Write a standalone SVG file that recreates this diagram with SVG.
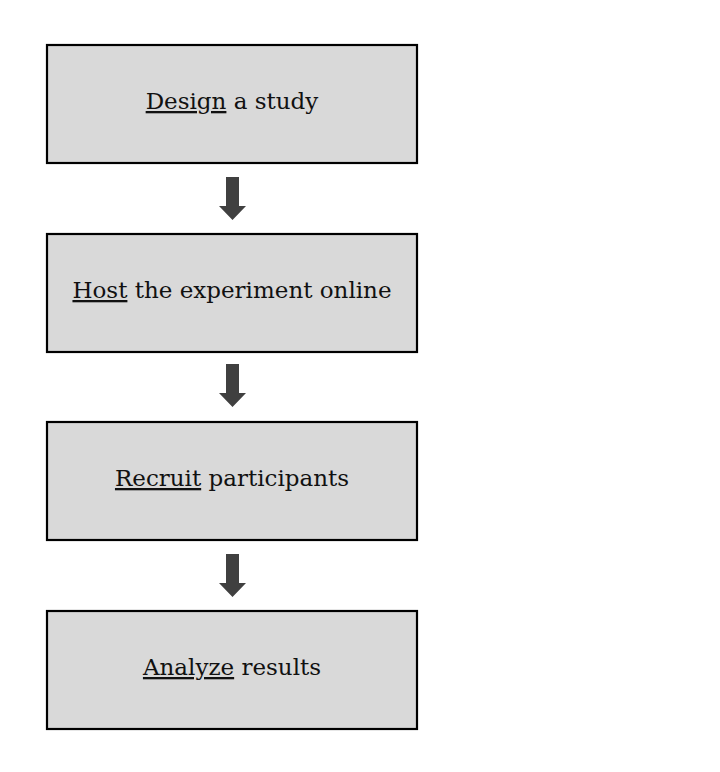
<svg xmlns="http://www.w3.org/2000/svg" width="720" height="772" viewBox="0 0 720 772">
<style>
.box{fill:#d9d9d9;stroke:#000;stroke-width:2.2}
.lbl{font-family:"DejaVu Serif","Liberation Serif",serif;font-size:23px;fill:#111;text-anchor:middle}
.u{text-decoration:underline}
.arr{fill:#404040}
</style>
<rect width="720" height="772" fill="#fff"/>
<g id="n1"><rect class="box" x="47" y="45" width="370" height="118"/><text class="lbl" x="232" y="109"><tspan class="u">Design</tspan> a study</text></g>
<g id="n2"><rect class="box" x="47" y="234" width="370" height="118"/><text class="lbl" x="232" y="298"><tspan class="u">Host</tspan> the experiment online</text></g>
<g id="n3"><rect class="box" x="47" y="422" width="370" height="118"/><text class="lbl" x="232" y="486"><tspan class="u">Recruit</tspan> participants</text></g>
<g id="n4"><rect class="box" x="47" y="611" width="370" height="118"/><text class="lbl" x="232" y="675"><tspan class="u">Analyze</tspan> results</text></g>
<g id="connectors">
<polygon class="arr" points="226,177 239,177 239,206 246,206 232.5,220 219,206 226,206"/>
<polygon class="arr" points="226,364 239,364 239,393 246,393 232.5,407 219,393 226,393"/>
<polygon class="arr" points="226,554 239,554 239,583 246,583 232.5,597 219,583 226,583"/>
</g>
</svg>
